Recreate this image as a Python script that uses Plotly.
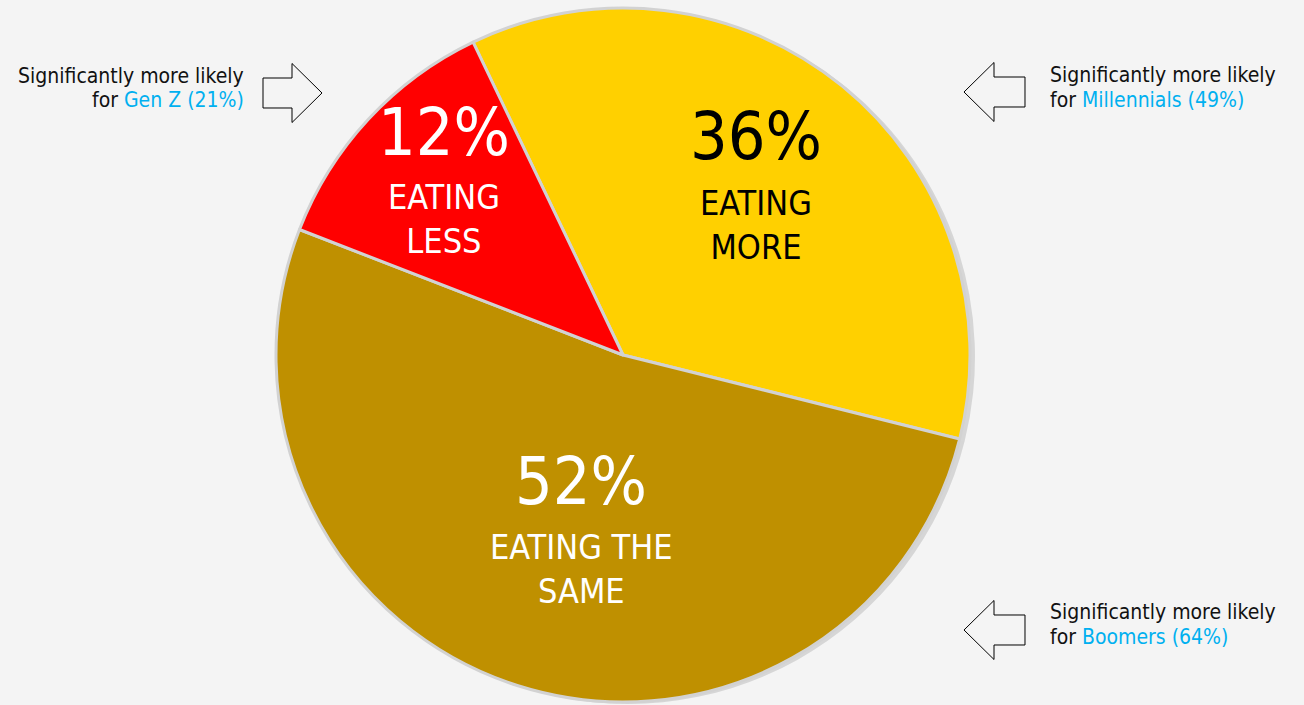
import plotly.graph_objects as go

# Share of respondents by change in consumption
categories = ["EATING MORE", "EATING THE SAME", "EATING LESS"]
shares = [36, 52, 12]
slice_colors = ["#FFD000", "#BF9000", "#FF0000"]
label_colors = ["#000000", "#FFFFFF", "#FFFFFF"]

# Generational call-outs
callout_groups = ["Gen Z", "Millennials", "Boomers"]
callout_values = [21, 49, 64]

W, H = 1304, 705
BG = "#f4f4f4"
ACCENT = "#00B0F0"
FONT = "DejaVu Sans Condensed, Roboto, sans-serif"


def px(x):
    return min(max(x / W, 0), 1)


def py(y):
    return min(max(1 - y / H, 0), 1)


# pie geometry (pixels)
cx, cy, r = 623, 355, 347
dom_x = [px(cx - r), px(cx + r)]
dom_y = [py(cy + r), py(cy - r)]

fig = go.Figure()

# soft drop shadow under the pie
sx, sy = 5, 2
fig.add_trace(go.Pie(
    values=shares, labels=categories, sort=False, direction="clockwise",
    rotation=-25.6, textinfo="none", hoverinfo="skip", showlegend=False,
    marker=dict(colors=["rgba(0,0,0,0.12)"] * 3, line=dict(width=0)),
    domain=dict(x=[px(cx - r + sx), px(cx + r + sx)], y=[py(cy + r + sy), py(cy - r + sy)]),
))

fig.add_trace(go.Pie(
    values=shares, labels=categories, sort=False, direction="clockwise",
    rotation=-25.6, textinfo="none", hoverinfo="skip", showlegend=False,
    marker=dict(colors=slice_colors, line=dict(color="#d2d2d2", width=3)),
    domain=dict(x=dom_x, y=dom_y),
))

# slice labels: (x, y of percentage, y of first caption line)
label_pos = {
    "EATING MORE": (756, 137, 203),
    "EATING THE SAME": (581, 481, 547),
    "EATING LESS": (444, 132, 197),
}
caption_lines = {
    "EATING MORE": "EATING<br>MORE",
    "EATING THE SAME": "EATING THE<br>SAME",
    "EATING LESS": "EATING<br>LESS",
}
annotations = []
for cat, val, col in zip(categories, shares, label_colors):
    x, y_pct, y_cap = label_pos[cat]
    annotations.append(dict(
        x=px(x), y=py(y_pct), xref="paper", yref="paper", showarrow=False,
        text=f"{val}%", font=dict(family=FONT, size=66, color=col, weight=500),
        xanchor="center", yanchor="middle",
    ))
    annotations.append(dict(
        x=px(x), y=py(y_cap - 22), xref="paper", yref="paper", showarrow=False,
        text=caption_lines[cat], font=dict(family=FONT, size=34, color=col),
        xanchor="center", yanchor="top",
    ))

# call-out texts: x, y of first line, y of second line, alignment
callout_pos = [(246, 76, 100, "right"), (1048, 75, 100, "left"), (1048, 612, 637, "left")]
for grp, val, (x, y1, y2, anchor) in zip(callout_groups, callout_values, callout_pos):
    annotations.append(dict(
        x=px(x), y=py(y1), xref="paper", yref="paper", showarrow=False,
        text="Significantly more likely",
        font=dict(family=FONT, size=21, color="#111111"),
        xanchor=anchor, yanchor="middle",
    ))
    annotations.append(dict(
        x=px(x), y=py(y2), xref="paper", yref="paper", showarrow=False,
        text=f"for <span style='color:{ACCENT}'>{grp} ({val}%)</span>",
        font=dict(family=FONT, size=21, color="#111111"),
        xanchor=anchor, yanchor="middle",
    ))


def block_arrow(x0, x1, yc, pointing):
    """Outlined block arrow spanning x0..x1 (pixels), centred on yc."""
    head_h, shaft_h, head_len = 29.5, 15, 30
    if pointing == "right":
        xs = x1 - head_len
        pts = [(x0, yc - shaft_h), (xs, yc - shaft_h), (xs, yc - head_h), (x1, yc),
               (xs, yc + head_h), (xs, yc + shaft_h), (x0, yc + shaft_h)]
    else:
        xs = x0 + head_len
        pts = [(x1, yc - shaft_h), (xs, yc - shaft_h), (xs, yc - head_h), (x0, yc),
               (xs, yc + head_h), (xs, yc + shaft_h), (x1, yc + shaft_h)]
    path = "M " + " L ".join(f"{px(a):.5f},{py(b):.5f}" for a, b in pts) + " Z"
    return dict(type="path", xref="paper", yref="paper", path=path,
                line=dict(color="#000000", width=1), fillcolor="rgba(0,0,0,0)")


shapes = [
    block_arrow(263, 322, 93, "right"),
    block_arrow(964, 1025, 92, "left"),
    block_arrow(964, 1025, 630, "left"),
]

fig.update_layout(
    width=W, height=H,
    margin=dict(l=0, r=0, t=0, b=0),
    paper_bgcolor=BG, plot_bgcolor=BG,
    annotations=annotations, shapes=shapes,
    showlegend=False,
)

fig.write_html("out.html")
